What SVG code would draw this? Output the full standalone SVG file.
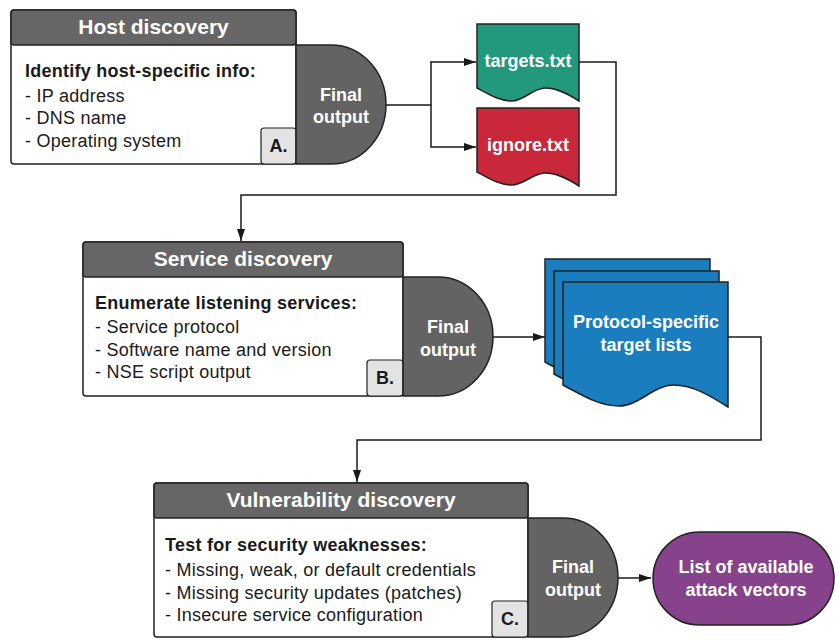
<svg xmlns="http://www.w3.org/2000/svg" width="835" height="640" viewBox="0 0 835 640">
  <style>
    text { font-family: "Liberation Sans", Arial, Helvetica, sans-serif; }
    .panel { fill: #ffffff; stroke: #222222; stroke-width: 1.5; }
    .head { fill: #666666; stroke: #222222; stroke-width: 1.5; }
    .delay { fill: #636363; stroke: #222222; stroke-width: 1.5; }
    .badge { fill: #e3e3e3; stroke: #222222; stroke-width: 1.2; }
    .title { fill: #ffffff; font-size: 21px; font-weight: bold; text-anchor: middle; }
    .lead { fill: #1a1a1a; font-size: 18px; font-weight: bold; letter-spacing: 0.25px; }
    .item { fill: #1a1a1a; font-size: 18px; letter-spacing: 0.25px; }
    .tag { fill: #1a1a1a; font-size: 18px; font-weight: bold; text-anchor: middle; }
    .out { fill: #ffffff; font-size: 18px; font-weight: bold; text-anchor: middle; }
    .doc { stroke: #222222; stroke-width: 1.5; }
    .wire { fill: none; stroke: #1a1a1a; stroke-width: 1.5; }
  </style>
  <defs>
    <marker id="arrow" viewBox="0 0 12 8" refX="12" refY="4" markerWidth="12" markerHeight="8" markerUnits="userSpaceOnUse" orient="auto">
      <path d="M0,0 L12,4 L0,8 Z" fill="#1a1a1a"/>
    </marker>
    <!-- wavy-bottom document outline, 165 wide -->
    <path id="listDoc" d="M563,282 H728 V407 C711.5,396.5 693.4,385 673.6,385 C653.8,385 638.9,406 619.1,406 C599.3,406 582.8,395.5 563,385 Z"/>
  </defs>

  <!-- connectors -->
  <g id="connectors">
    <path class="wire" d="M386,105 H431 V62 H476" marker-end="url(#arrow)"/>
    <path class="wire" d="M431,105 V147 H476" marker-end="url(#arrow)"/>
    <path class="wire" d="M579,62 H616 V195 H241 V241" marker-end="url(#arrow)"/>
    <path class="wire" d="M493,337 H545" marker-end="url(#arrow)"/>
    <path class="wire" d="M728,337 H761 V440 H357 V482" marker-end="url(#arrow)"/>
    <path class="wire" d="M617,578 H651" marker-end="url(#arrow)"/>
  </g>

  <!-- stage A -->
  <g id="host-discovery">
    <rect class="panel" x="11" y="10" width="285" height="154" rx="3"/>
    <rect class="head" x="11" y="10" width="285" height="35" rx="3"/>
    <text class="title" x="153.5" y="34">Host discovery</text>
    <text class="lead" x="25" y="77">Identify host-specific info:</text>
    <text class="item" x="25" y="102">- IP address</text>
    <text class="item" x="25" y="124">- DNS name</text>
    <text class="item" x="25" y="147">- Operating system</text>
    <rect class="badge" x="261" y="128" width="35" height="36" rx="3"/>
    <text class="tag" x="278.5" y="152">A.</text>
  </g>
  <g id="host-output">
    <path class="delay" d="M296,45 H331 C362,45 386,72 386,104.5 C386,137 362,164 331,164 H296 Z"/>
    <text class="out" x="341" y="100.5">Final</text>
    <text class="out" x="341" y="123">output</text>
  </g>

  <g id="targets-file">
    <path class="doc" fill="#22987d" d="M477,24 H579 V101 C568.8,94.5 557.6,88 545.3,88 C533.1,88 523.9,101 511.7,101 C499.4,101 489.2,94.5 477,88 Z"/>
    <text class="out" x="528" y="67">targets.txt</text>
  </g>
  <g id="ignore-file">
    <path class="doc" fill="#c8283a" d="M477,108 H579 V186 C568.8,179.5 557.6,173 545.3,173 C533.1,173 523.9,185 511.7,185 C499.4,185 489.2,178.5 477,172 Z"/>
    <text class="out" x="528" y="151">ignore.txt</text>
  </g>

  <!-- stage B -->
  <g id="service-discovery">
    <rect class="panel" x="83" y="242" width="320" height="154" rx="3"/>
    <rect class="head" x="83" y="242" width="320" height="35" rx="3"/>
    <text class="title" x="243" y="266">Service discovery</text>
    <text class="lead" x="95" y="309">Enumerate listening services:</text>
    <text class="item" x="95" y="333">- Service protocol</text>
    <text class="item" x="95" y="356">- Software name and version</text>
    <text class="item" x="95" y="378">- NSE script output</text>
    <rect class="badge" x="367" y="360" width="36" height="36" rx="3"/>
    <text class="tag" x="385" y="384">B.</text>
  </g>
  <g id="service-output">
    <path class="delay" d="M403,277 H438 C469,277 493,304 493,336.5 C493,369 469,396 438,396 H403 Z"/>
    <text class="out" x="448" y="333">Final</text>
    <text class="out" x="448" y="356">output</text>
  </g>

  <g id="target-lists">
    <use href="#listDoc" class="doc" fill="#1a7dbd" transform="translate(-18,-23)"/>
    <use href="#listDoc" class="doc" fill="#1a7dbd" transform="translate(-9,-11)"/>
    <use href="#listDoc" class="doc" fill="#1a7dbd"/>
    <text class="out" x="646" y="328">Protocol-specific</text>
    <text class="out" x="646" y="351">target lists</text>
  </g>

  <!-- stage C -->
  <g id="vulnerability-discovery">
    <rect class="panel" x="154" y="483" width="374" height="154" rx="3"/>
    <rect class="head" x="154" y="483" width="374" height="35" rx="3"/>
    <text class="title" x="341" y="507">Vulnerability discovery</text>
    <text class="lead" x="165" y="551">Test for security weaknesses:</text>
    <text class="item" x="165" y="576">- Missing, weak, or default credentials</text>
    <text class="item" x="165" y="599">- Missing security updates (patches)</text>
    <text class="item" x="165" y="621">- Insecure service configuration</text>
    <rect class="badge" x="492" y="601" width="36" height="36" rx="3"/>
    <text class="tag" x="510" y="625">C.</text>
  </g>
  <g id="vulnerability-output">
    <path class="delay" d="M528,518 H563 C594,518 618,545 618,577.5 C618,610 594,637 563,637 H528 Z"/>
    <text class="out" x="573" y="573">Final</text>
    <text class="out" x="573" y="596">output</text>
  </g>

  <g id="attack-vectors">
    <rect x="653" y="532" width="181" height="93" rx="46.5" fill="#86428a" stroke="#222222" stroke-width="1.5"/>
    <text class="out" x="746" y="573">List of available</text>
    <text class="out" x="746" y="596">attack vectors</text>
  </g>
</svg>
